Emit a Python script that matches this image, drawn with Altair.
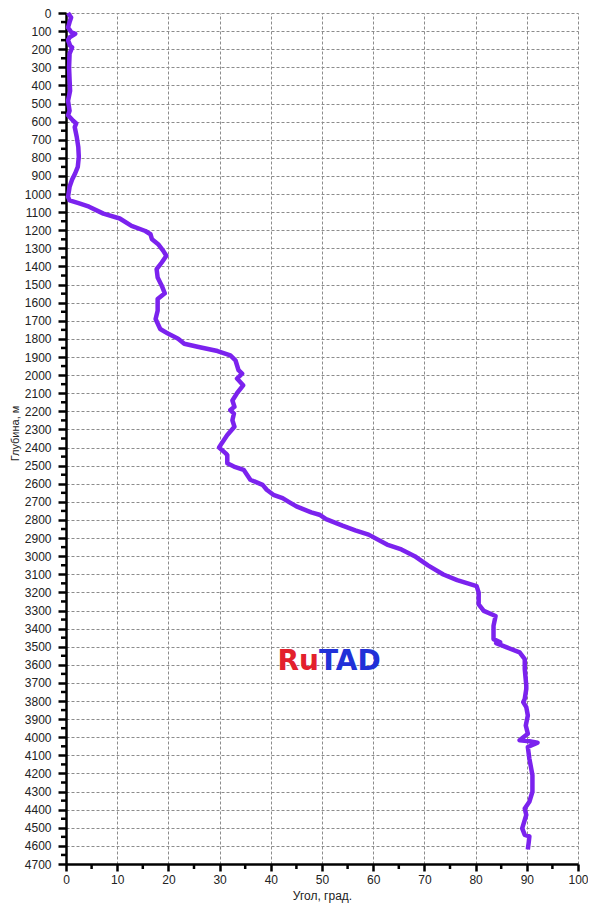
import altair as alt
import pandas as pd

# Well inclination profile: depth (m) and angle (deg)
depth = [0, 25, 50, 80, 105, 115, 135, 150, 180, 190, 225, 300, 370, 430, 485, 540,
         565, 595, 610, 630, 685, 740, 795, 850, 885, 920, 960, 1015, 1035, 1052, 1070,
         1108, 1135, 1176, 1204, 1222, 1250, 1277, 1314, 1341, 1378, 1415, 1461, 1506,
         1548, 1580, 1644, 1690, 1745, 1772, 1799, 1827, 1845, 1867, 1891, 1918, 1973,
         1992, 2019, 2056, 2100, 2140, 2175, 2193, 2212, 2249, 2285, 2331, 2377, 2400,
         2432, 2441, 2487, 2505, 2523, 2578, 2606, 2633, 2661, 2679, 2700, 2725, 2758,
         2771, 2795, 2831, 2857, 2881, 2936, 2963, 3000, 3051, 3101, 3132, 3165, 3201,
         3266, 3302, 3330, 3385, 3458, 3476, 3480, 3504, 3531, 3568, 3623, 3715, 3733,
         3788, 3806, 3834, 3880, 3935, 3980, 4017, 4022, 4030, 4054, 4118, 4209, 4301,
         4356, 4393, 4429, 4503, 4539, 4548, 4575, 4620]
angle = [0.4, 1.0, 0.7, 0.4, 1.0, 1.8, 0.7, 0.4, 0.8, 1.2, 0.7, 0.6, 0.7, 0.8, 0.4, 0.7,
         0.4, 1.4, 2.0, 1.7, 2.1, 2.4, 2.5, 2.3, 1.8, 1.2, 0.7, 0.4, 0.7, 2.6, 4.5,
         7.3, 10.5, 12.8, 15.5, 16.5, 16.8, 18.0, 19.0, 19.6, 18.7, 17.7, 17.9, 18.7,
         19.3, 17.9, 17.9, 17.5, 18.4, 20.0, 21.9, 23.1, 25.9, 29.6, 32.1, 33.1, 33.7,
         34.4, 33.4, 34.6, 33.4, 32.5, 32.9, 32.1, 32.8, 32.5, 32.9, 31.5, 30.4, 29.9,
         31.2, 31.5, 31.5, 32.8, 34.7, 36.0, 38.4, 39.2, 40.5, 42.3, 43.5, 45.0, 47.9,
         49.5, 50.8, 54.0, 56.5, 59.1, 62.7, 65.5, 68.1, 70.7, 73.7, 76.4, 80.2, 80.6,
         80.6, 81.6, 83.9, 83.5, 83.5, 84.8, 84.0, 86.1, 88.6, 89.6, 89.6, 89.9, 89.9,
         89.6, 89.3, 89.9, 90.2, 89.8, 90.2, 88.6, 90.5, 92.1, 90.2, 90.5, 91.1, 91.1,
         90.5, 89.6, 89.9, 89.1, 89.6, 90.5, 90.4, 90.2]

x_major = list(range(0, 101, 10))
x_minor = list(range(5, 100, 10))
y_major = list(range(0, 4701, 100))
y_minor = list(range(50, 4700, 100))

logo_text = ["Ru", "TAD"]
logo_color = ["#e3202c", "#2131d8"]
logo_x = [49.4, 49.4]
logo_depth = [3585, 3585]

PLOT_W, PLOT_H = 512, 851

df = pd.DataFrame({"depth": depth, "angle": angle})

x_axis = alt.Axis(
    values=x_major, format="d",
    title="Угол, град.",
    labelFont="Liberation Sans", labelFontSize=12, labelColor="#222",
    titleFont="Liberation Sans", titleFontSize=12, titleFontWeight="normal", titleColor="#222",
    labelPadding=3, titlePadding=5,
    domainColor="black", domainWidth=2.5,
    tickColor="black", tickWidth=2.5, tickSize=7,
    grid=True, gridColor="#8c8c8c", gridDash=[3, 2], gridWidth=1,
    labelFlush=False, labelOverlap=False,
)

y_axis = alt.Axis(
    values=y_major, format="d",
    title="Глубина, м",
    labelFont="Liberation Sans", labelFontSize=12, labelColor="#222",
    titleFont="Liberation Sans", titleFontSize=11, titleFontWeight="normal", titleColor="#222",
    titleX=-46, titleY=420, titleBaseline="bottom", titleAngle=270,
    labelPadding=7,
    domainColor="black", domainWidth=2.5,
    tickColor="black", tickWidth=2.5, tickSize=8,
    grid=True, gridColor="#8c8c8c", gridDash=[3, 2], gridWidth=1,
    labelFlush=False, labelOverlap=False,
)

xs = alt.Scale(domain=[0, 100], nice=False, zero=True)
ys = alt.Scale(domain=[0, 4700], nice=False, reverse=True)

line = alt.Chart(df).mark_line(color="#7b22ee", strokeWidth=4.5, strokeJoin="round").encode(
    x=alt.X("angle:Q", scale=xs, axis=x_axis),
    y=alt.Y("depth:Q", scale=ys, axis=y_axis),
    order=alt.Order("depth:Q"),
)

minor_x = alt.Chart(pd.DataFrame({"angle": x_minor})).mark_rule(color="black", strokeWidth=2.5).encode(
    x=alt.X("angle:Q", scale=xs, axis=x_axis),
    y=alt.value(PLOT_H),
    y2=alt.value(PLOT_H + 5),
)
minor_y = alt.Chart(pd.DataFrame({"depth": y_minor})).mark_rule(color="black", strokeWidth=2.5).encode(
    y=alt.Y("depth:Q", scale=ys, axis=y_axis),
    x=alt.value(0),
    x2=alt.value(-5),
)

logo_df = pd.DataFrame({"text": logo_text, "color": logo_color,
                        "angle": logo_x, "depth": logo_depth})

ru = alt.Chart(logo_df.iloc[[0]]).mark_text(
    font="DejaVu Sans", fontWeight="bold", fontSize=28, align="right", baseline="middle"
).encode(
    x=alt.X("angle:Q", scale=xs, axis=x_axis), y=alt.Y("depth:Q", scale=ys, axis=y_axis),
    text="text:N", color=alt.Color("color:N", scale=None),
)
tad = alt.Chart(logo_df.iloc[[1]]).mark_text(
    font="DejaVu Sans", fontWeight="bold", fontSize=28, align="left", baseline="middle"
).encode(
    x=alt.X("angle:Q", scale=xs, axis=x_axis), y=alt.Y("depth:Q", scale=ys, axis=y_axis),
    text="text:N", color=alt.Color("color:N", scale=None),
)

chart = alt.layer(line, minor_x, minor_y, ru, tad).properties(
    width=PLOT_W, height=PLOT_H,
    autosize=alt.AutoSizeParams(type="none"),
    padding={"left": 58, "top": 5, "right": 10, "bottom": 39},
    background="white",
).configure_view(stroke=None)

chart.save("out.html", embed_options={"renderer": "svg", "actions": False})
